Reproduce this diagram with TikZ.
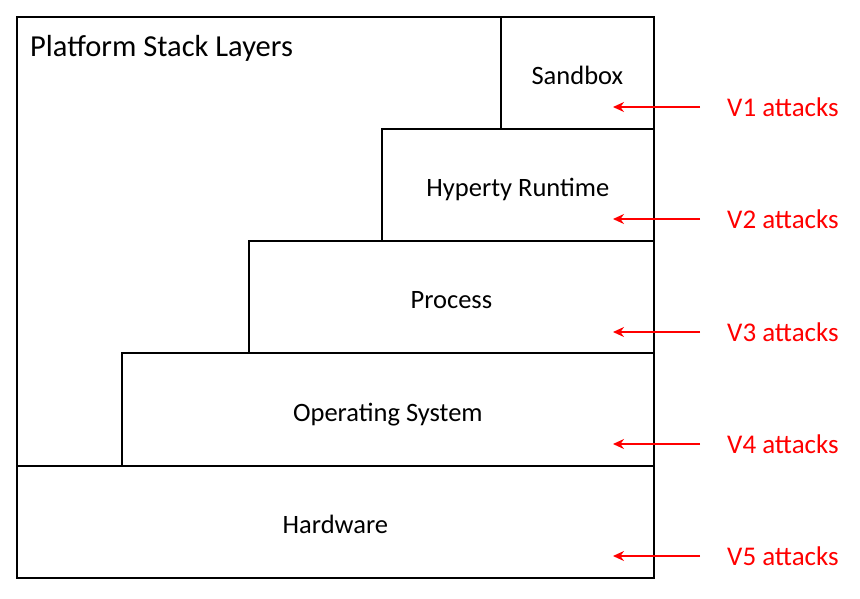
\documentclass[tikz,border=0pt]{standalone}
\usepackage{fontspec}
\setmainfont{Carlito}
\usetikzlibrary{arrows.meta}

\begin{document}
\begin{tikzpicture}[
  x=1pt, y=-1pt,
  layer/.style={
    draw, line width=1.7pt, rectangle, anchor=north west,
    font=\fontsize{26.5}{30}\selectfont, align=center, inner sep=0pt,
    text height=24pt, text depth=0pt
  },
  attack/.style={
    text=red, font=\fontsize{27}{30}\selectfont, anchor=west, inner sep=0pt
  },
  arr/.style={-{Stealth[length=11pt,width=10pt]}, red, line width=1.6pt, shorten <=27pt},
]
\useasboundingbox (0,0) rectangle (860,598);
\def\right{653}
% outer frame and title
\node[layer, minimum width=637pt, minimum height=561pt] (frame) at (16,16) {};
\node[anchor=west, inner sep=0pt, font=\fontsize{30.5}{34}\selectfont] (title) at (30,48) {Platform Stack Layers};
% stacked layers
\node[layer, minimum width=\right pt-500pt, minimum height=112pt] (sandbox)  at (500,16)  {Sandbox};
\node[layer, minimum width=\right pt-381pt, minimum height=112pt] (runtime)  at (381,128) {Hyperty Runtime};
\node[layer, minimum width=\right pt-248pt, minimum height=112pt] (process)  at (248,240) {Process};
\node[layer, minimum width=\right pt-121pt, minimum height=113pt] (os)       at (121,352) {Operating System};
\node[layer, minimum width=\right pt-16pt,  minimum height=112pt] (hardware) at (16,465)  {Hardware};
% attack vectors
\foreach \i/\y in {1/107, 2/219, 3/332, 4/444, 5/556} {
  \node[attack] (v\i) at (727,\y) {V\i{} attacks};
  \coordinate (t\i) at (613,\y);
  \draw[arr] (v\i.west) -- (t\i);
}
\end{tikzpicture}
\end{document}
